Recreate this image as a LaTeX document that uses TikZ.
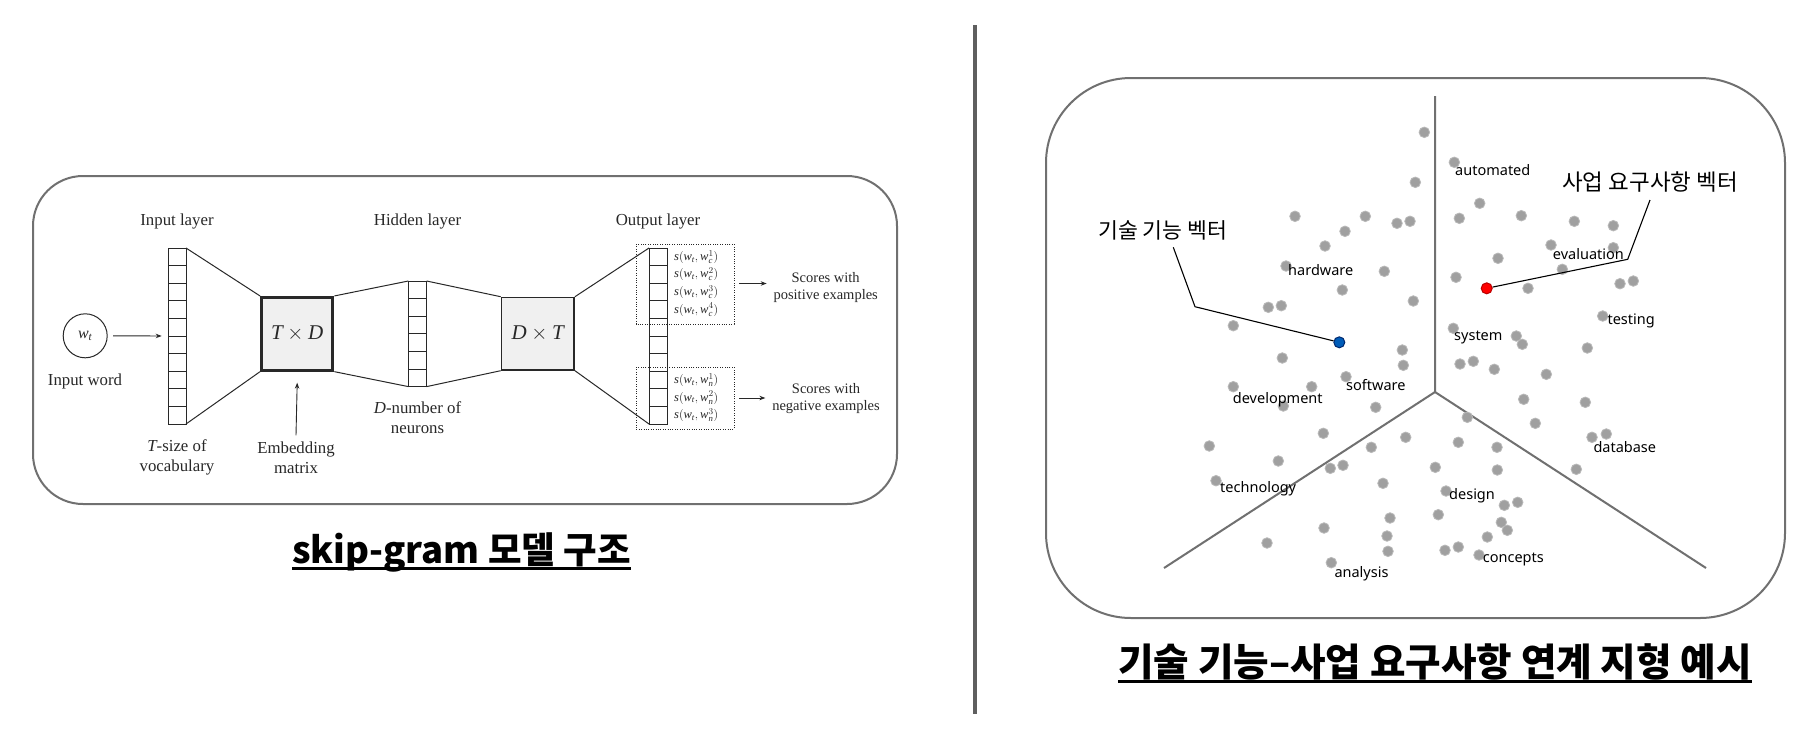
\documentclass[tikz,border=0pt]{standalone}
\usepackage{fontspec}
\setmainfont{Liberation Serif}
\newfontfamily\krfont{Noto Sans CJK KR}
\newfontfamily\wordfont{Noto Sans}
\usetikzlibrary{arrows.meta,calc}
\newcommand{\mv}[1]{\mathit{#1}}
\definecolor{boxgray}{RGB}{112,112,112}
\definecolor{divgray}{RGB}{95,95,95}
\definecolor{linegray}{RGB}{112,112,112}
\definecolor{dotfill}{RGB}{160,160,160}
\definecolor{dotring}{RGB}{185,185,185}
\definecolor{cellfill}{RGB}{240,240,240}
\definecolor{ink}{RGB}{40,40,40}
\definecolor{techblue}{RGB}{0,92,184}
\definecolor{techblueedge}{RGB}{0,40,110}
\definecolor{bizred}{RGB}{255,0,0}
\definecolor{bizrededge}{RGB}{185,0,0}
\begin{document}
\begin{tikzpicture}[x=1pt,y=-1pt,
  frame/.style={draw=boxgray,line width=2pt},
  wire/.style={draw=ink,line width=1pt},
  arr/.style={draw=ink,line width=0.9pt,-{Stealth[length=6pt,width=4.5pt]}},
  cell/.style={draw=ink,line width=0.9pt,minimum width=18pt,minimum height=17.6pt,inner sep=0pt,outer sep=0pt},
  hcell/.style={cell,minimum width=18.3pt},
  lbl/.style={font=\fontsize{16.8}{20}\selectfont,inner sep=0pt,text=ink},
  slbl/.style={font=\fontsize{14.5}{16.7}\selectfont,inner sep=0pt,text=ink,align=center,anchor=north},
  score/.style={font=\fontsize{12.5}{14}\selectfont,inner sep=0pt,anchor=west,text=ink},
  dotbox/.style={draw=ink,line width=1pt,dash pattern=on 1pt off 1.4pt},
  matbox/.style={fill=cellfill,inner sep=0pt,font=\fontsize{21}{25}\selectfont,text=ink},
  sepline/.style={draw=linegray,line width=2pt},
  leader/.style={draw=black,line width=1.1pt},
  gdot/.style={fill=dotfill,draw=dotring,line width=0.8pt},
  word/.style={font=\wordfont\fontsize{14.5}{17}\selectfont,inner sep=0pt,anchor=base west},
  klbl/.style={font=\krfont\fontsize{21.6}{25}\selectfont,inner sep=0pt,anchor=west},
  ttl/.style={font=\krfont\bfseries\fontsize{36.5}{40}\selectfont,inner sep=0pt,anchor=base},
  uline/.style={draw=black,line width=3pt},
  vecdot/.style={circle,minimum size=11pt,inner sep=0pt,line width=1pt}
]
\fill[white] (0,0) rectangle (1818,740);
\useasboundingbox (0,0) rectangle (1818,740);

% ---------------- left: skip-gram ----------------
\draw[frame, rounded corners=50pt] (33,176) rectangle (897,504);
\node[lbl, anchor=base] (inlayer) at (177,225) {Input layer};
\node[lbl, anchor=base] (hidlayer) at (417.5,225) {Hidden layer};
\node[lbl, anchor=base] (outlayer) at (658,225) {Output layer};

\node[circle, draw=ink, line width=1pt, minimum size=44pt, inner sep=0pt,
      font=\fontsize{16}{18}\selectfont, text=ink] (wt) at (85.2,335.8) {$\mv{w}_{\mv{t}}$};
\node[lbl, anchor=base] (inword) at (85,385) {Input word};

\foreach \i in {1,...,10} {\node[cell] (in\i) at (177,{256.8+(\i-1)*17.6}) {};}
\draw[arr, shorten <=5.5pt, shorten >=6.3pt] (wt.east) -- (in5.south west);

\node[draw=ink, line width=3pt, matbox, minimum width=71.3pt, minimum height=72.7pt] (TD) at (297.2,333.8) {$\mv{T}\times\mv{D}$};
\draw[wire] (in1.north east) -- (TD.north west);
\draw[wire] (in10.south east) -- (TD.south west);
\node[lbl, anchor=north, align=center] (vocab) at (177,439.5) {$\mv{T}$-size of\\vocabulary};
\node[lbl, anchor=north, align=center] (emb) at (296,441.8) {Embedding\\matrix};
\draw[arr] ($(emb.north)+(0,-6.5)$) -- ($(TD.south)+(0,11)$);

\foreach \i in {1,...,6} {\node[hcell] (hd\i) at (417.5,{289.8+(\i-1)*17.6}) {};}
\draw[wire] (TD.north east) -- (hd1.north west);
\draw[wire] (TD.south east) -- (hd6.south west);
\node[lbl, anchor=north, align=center] (neur) at (417.5,401.8) {$\mv{D}$-number of\\neurons};

\node[draw=ink, line width=1.6pt, matbox, minimum width=72.7pt, minimum height=72.4pt] (DT) at (537.8,333.7) {$\mv{D}\times\mv{T}$};
\draw[wire] (hd1.north east) -- (DT.north west);
\draw[wire] (hd6.south east) -- (DT.south west);

\foreach \i in {1,...,10} {\node[cell] (out\i) at (658,{256.8+(\i-1)*17.6}) {};}
\draw[wire] (DT.north east) -- (out1.north west);
\draw[wire] (DT.south east) -- (out10.south west);

\coordinate (posNW) at (636,244);
\coordinate (posSE) at (734,324);
\coordinate (negNW) at (636,367);
\coordinate (negSE) at (734,429);
\draw[dotbox] (posNW) rectangle (posSE);
\draw[dotbox] (negNW) rectangle (negSE);
\coordinate (posE) at (734,283.5);
\coordinate (negE) at (734,398);
\foreach \i in {1,...,4} {\node[score] (ps\i) at (674,{256.8+(\i-1)*17.6}) {$\mv{s}(\mv{w}_{\mv{t}},\mv{w}_{\mv{c}}^{\i})$};}
\foreach \nn/\cc in {1/8,2/9,3/10} {\node[score] (ns\nn) at (674,{256.8+(\cc-1)*17.6}) {$\mv{s}(\mv{w}_{\mv{t}},\mv{w}_{\mv{n}}^{\nn})$};}

\node[slbl] (posl) at (825.7,272.4) {Scores with\\positive examples};
\node[slbl] (negl) at (826,383.4) {Scores with\\negative examples};
\draw[arr, shorten <=5pt, shorten >=6.7pt] (posE) -- (posl.west |- posE);
\draw[arr, shorten <=5pt, shorten >=6.7pt] (negE) -- (negl.west |- negE);

\node[ttl] (title1) at (461.4,563) {skip-gram 모델 구조};
\draw[uline] ($(title1.base west)+(0,5)$) -- ($(title1.base east)+(0,5)$);

% ---------------- divider ----------------
\coordinate (divtop) at (975,25);
\coordinate (divbot) at (975,714);
\draw[draw=divgray, line width=4pt] (divtop) -- (divbot);

% ---------------- right: landscape ----------------
\draw[frame, rounded corners=85pt] (1046,78) rectangle (1785,618);
\coordinate (J) at (1435,392);
\coordinate (Ptop) at (1435,96);
\coordinate (Pleft) at (1164,568);
\coordinate (Pright) at (1706,568);
\draw[sepline] (Ptop) -- (J) -- (Pleft);
\draw[sepline] (J) -- (Pright);

\foreach \x/\y in {
  1424.3/132.3, 1415.3/182.3, 1454.3/162.3, 1295/216.3, 1365.3/216.3, 1397/223.3, 1410/221.3,
  1345/231.3, 1325/246, 1286/266, 1384.3/271.3, 1342.3/290, 1413.3/301, 1268.3/307.3,
  1281.3/305.7, 1233.3/325.7, 1282.3/358, 1402.3/350, 1403.3/365.3, 1346/376.7, 1233.3/386.7,
  1311.7/386.7,
  1479.7/203.3, 1459.3/218.3, 1521.3/215.7, 1574.3/221.3, 1613.3/225.7, 1551/245, 1613.3/247.7,
  1498/258.3, 1456/277.3, 1562.3/269.3, 1528/288.3, 1620/283.7, 1633.3/281, 1602.7/316,
  1453.3/328.3, 1516.3/336, 1522.3/344.3, 1587.3/348, 1460/364, 1473.3/361.3, 1494.3/369.3,
  1546.3/374.3,
  1283.3/406, 1375.7/407.3, 1323.3/433.3, 1405.7/437.3, 1209.3/446, 1371.3/447.3, 1278.3/461,
  1330.3/468.3, 1343/465.3, 1216/480.7, 1383/483.3, 1390/518, 1324/528, 1387/536, 1267/543,
  1388/551.3, 1331.3/562.7,
  1523.7/399.3, 1585.3/402.3, 1467.3/417.3, 1535.3/423.3, 1592/437.3, 1606.3/434, 1458.3/442.3,
  1497/447.3, 1435.3/467.3, 1497.3/470, 1576.3/469.3, 1446/491, 1504.3/505.3, 1517.7/502.3,
  1438.3/514.7, 1501.3/522.3, 1507.3/530.3, 1487.3/537, 1445/550.3, 1458.3/547, 1479/555}
  {\fill[gdot] (\x,\y) circle[radius=5.3pt];}

\coordinate (tA) at (1173.3,247.3);
\coordinate (tB) at (1195,306.7);
\coordinate (bA) at (1650,200);
\coordinate (bB) at (1627.7,259.3);
\node[vecdot, fill=techblue, draw=techblueedge] (tvec) at (1339.3,342.3) {};
\node[vecdot, fill=bizred, draw=bizrededge] (bvec) at (1486.7,288.3) {};
\draw[leader] (tA) -- (tB) -- (tvec);
\draw[leader] (bA) -- (bB) -- (bvec);
\node[klbl] (tlab) at (1098,230) {기술 기능 벡터};
\node[klbl, font=\krfont\fontsize{22.5}{26}\selectfont] (blab) at (1562,182) {사업 요구사항 벡터};

\node[word] (whard) at (1288,275) {hardware};
\node[word] (wsoft) at (1346,390) {software};
\node[word] (wdev) at (1232.7,403) {development};
\node[word] (wauto) at (1455,175) {automated};
\node[word] (weval) at (1552.7,259) {evaluation};
\node[word] (wtest) at (1607.3,324) {testing};
\node[word] (wsys) at (1454,340.7) {system};
\node[word] (wdb) at (1593.3,452) {database};
\node[word] (wtech) at (1220,492.7) {technology};
\node[word] (wdes) at (1449,499) {design};
\node[word] (wana) at (1334.3,577.3) {analysis};
\node[word] (wcon) at (1482.7,562.7) {concepts};

\node[ttl, font=\krfont\bfseries\fontsize{38.6}{42}\selectfont] (title2) at (1435,676) {기술 기능–사업 요구사항 연계 지형 예시};
\draw[uline] ($(title2.base west)+(0,5.5)$) -- ($(title2.base east)+(0,5.5)$);
\end{tikzpicture}
\end{document}
